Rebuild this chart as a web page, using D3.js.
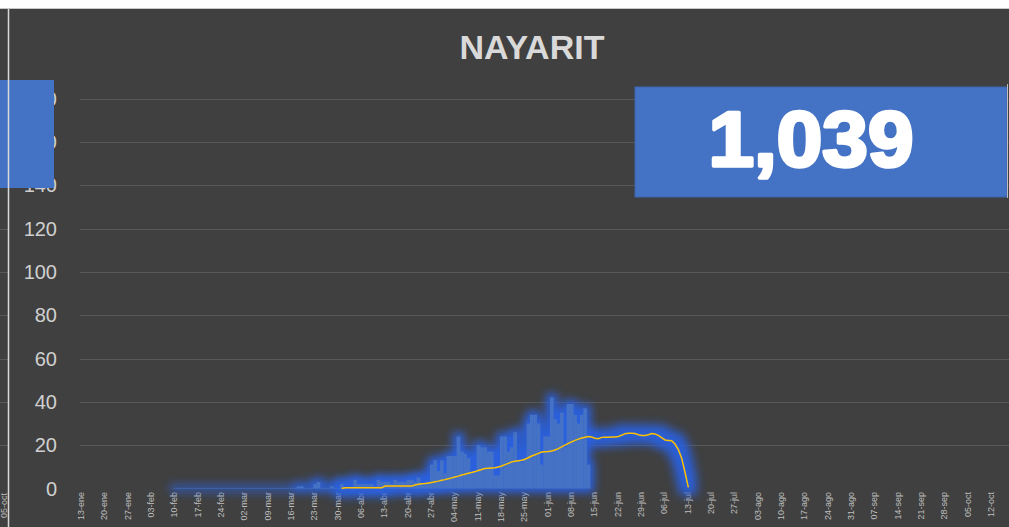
<!DOCTYPE html>
<html>
<head>
<meta charset="utf-8">
<script src="https://cdn.jsdelivr.net/npm/d3@7"></script>
<style>
  html, body { margin: 0; padding: 0; background: #404040; }
  svg { display: block; font-family: "Liberation Sans", Arial, sans-serif; }
</style>
</head>
<body>
<div id="chart"></div>
<script>
// --- datos ---
const title = "NAYARIT";
const totalLabel = "1,039";

const monthsShort = ["ene", "feb", "mar", "abr", "may", "jun", "jul", "ago", "sep", "oct", "nov", "dic"];
const axisStart = "2020-01-13";
const axisEnd = "2020-10-12";
const yTicks = [0, 20, 40, 60, 80, 100, 120, 140, 160, 180];

// casos diarios desde el 10-feb
const barStart = "2020-02-10";
const barValues = [
  0, 0, 0, 0, 0, 0, 0, 0, 0, 0, 0, 0, 0, 0, 0, 0, 0, 0, 0, 0,
  0, 0, 0, 0, 0, 0, 0, 0, 0, 0, 0, 0, 0, 0, 0,
  0, 0, 1, 1, 0, 0, 0, 2, 3, 0, 0, 0, 1, 0, 0, 2, 0, 0, 0, 4,
  2, 2, 2, 2, 2, 1, 4, 3, 3, 3, 2, 4, 3, 3, 3, 4, 4, 3, 5, 2,
  2, 3, 11, 13, 8, 13, 7, 15, 15, 15, 24, 17, 16, 14, 7, 8, 20, 19, 19, 17,
  17, 6, 6, 24, 24, 17, 19, 26, 13, 12, 14, 30, 34, 34, 30, 11, 24, 24, 42, 32,
  30, 35, 19, 39, 39, 34, 30, 34, 37, 11
];

// promedio móvil (línea amarilla) desde el 31-mar
const lineStart = "2020-03-31";
const lineValues = [
  0.0, 0.3, 0.3, 0.3, 0.3, 0.3, 0.3, 0.3, 0.3, 0.3, 0.3, 0.3, 0.3,
  1.1, 1.1, 1.1, 1.1, 1.1, 1.1, 1.1, 1.1, 1.1,
  1.6, 2.0, 2.2, 2.3, 2.5, 2.8,
  3.1, 3.4, 3.8, 4.1, 4.5, 4.9, 5.3, 5.7, 6.2, 6.6, 7.0, 7.4, 7.8, 8.3, 8.8, 9.2,
  9.4, 9.5, 9.6, 9.9, 10.4, 11.0, 11.6, 12.3, 12.6, 12.8, 13.0, 13.5, 14.2, 15.0,
  15.6, 16.2, 16.8, 17.0, 17.1, 17.3, 17.8, 18.4, 19.2, 20.0, 20.8, 21.5, 22.2, 22.8,
  23.3, 23.7, 24.0, 23.8, 23.2, 23.0, 23.6, 23.7, 23.7, 23.8, 23.8, 24.0, 24.6, 25.3,
  25.5, 25.5, 25.4, 24.8, 24.5, 24.5, 24.8, 25.4, 25.2, 24.5, 23.5, 22.4, 22.2, 22.0,
  20.5, 18.0, 14.0, 7.5, 0.5
];

// --- configuración ---
const W = 1009, H = 527;
const bg = "#404040";
const blue = "#4472C4";

const parse = d3.utcParse("%Y-%m-%d");
const esLocale = d3.timeFormatLocale({
  dateTime: "%x, %X", date: "%d/%m/%Y", time: "%H:%M:%S", periods: ["AM", "PM"],
  days: ["domingo", "lunes", "martes", "miércoles", "jueves", "viernes", "sábado"],
  shortDays: ["dom", "lun", "mar", "mié", "jue", "vie", "sáb"],
  months: ["enero", "febrero", "marzo", "abril", "mayo", "junio", "julio", "agosto", "septiembre", "octubre", "noviembre", "diciembre"],
  shortMonths: monthsShort
});
const fmt = esLocale.utcFormat("%d-%b");

const svg = d3.select("#chart").append("svg")
  .attr("width", W).attr("height", H);

const defs = svg.append("defs");
// halo azul; withSource=false deja sólo el halo
function glowFilter(id, radius, blur, opacity, withSource) {
  const f = defs.append("filter").attr("id", id)
    .attr("filterUnits", "userSpaceOnUse")
    .attr("x", 0).attr("y", 0).attr("width", W).attr("height", H);
  f.append("feMorphology").attr("in", "SourceAlpha").attr("operator", "dilate")
    .attr("radius", radius).attr("result", "d");
  f.append("feGaussianBlur").attr("in", "d").attr("stdDeviation", blur).attr("result", "b");
  f.append("feFlood").attr("flood-color", "#2a60de").attr("flood-opacity", opacity);
  f.append("feComposite").attr("in2", "b").attr("operator", "in").attr("result", "g");
  const m = f.append("feMerge");
  m.append("feMergeNode").attr("in", "g");
  if (withSource) m.append("feMergeNode").attr("in", "SourceGraphic");
}
glowFilter("glowBars", 4, 4.5, 1, true);
glowFilter("glowLine", 8, 5, 0.95, false);

svg.append("rect").attr("width", W).attr("height", H).attr("fill", bg);
// franja blanca superior y bordes del panel
svg.append("rect").attr("width", W).attr("height", 8).attr("fill", "#ffffff");
svg.append("line").attr("x1", 0).attr("x2", W).attr("y1", 8.5).attr("y2", 8.5)
  .attr("stroke", "#c8c8c8").attr("stroke-width", 1);

// --- escalas ---
const x = d3.scaleUtc([parse(axisStart), parse(axisEnd)], [80, 990]);
const y = d3.scaleLinear([0, 180], [488.5, 98.5]);
const dayW = x(d3.utcDay.offset(parse(axisStart), 1)) - x(parse(axisStart));

// rejilla (incluye el resto del panel anterior a la izquierda)
svg.append("g").selectAll("line").data(yTicks.filter(d => d > 0)).join("line")
  .attr("x1", 80).attr("x2", W)
  .attr("y1", d => Math.round(y(d)) + 0.5).attr("y2", d => Math.round(y(d)) + 0.5)
  .attr("stroke", "#595959").attr("stroke-width", 1);
svg.append("g").selectAll("line").data(yTicks.filter(d => d > 0)).join("line")
  .attr("x1", 0).attr("x2", 8)
  .attr("y1", d => Math.round(y(d)) + 0.5).attr("y2", d => Math.round(y(d)) + 0.5)
  .attr("stroke", "#595959").attr("stroke-width", 1);

// eje Y
svg.append("g").selectAll("text").data(yTicks).join("text")
  .attr("x", 57).attr("y", d => y(d))
  .attr("dy", "0.36em")
  .attr("text-anchor", "end")
  .attr("font-size", 20)
  .attr("fill", "#d0d0d0")
  .text(d => d);

// eje X (semanal)
const weeks = d3.utcDays(parse(axisStart), d3.utcDay.offset(parse(axisEnd), 1), 7);
const xAxis = d3.axisBottom(x).tickValues(weeks).tickFormat(fmt).tickSize(0);
const gx = svg.append("g").attr("transform", "translate(0,492)").call(xAxis);
gx.select(".domain").remove();
gx.selectAll("text")
  .attr("transform", "rotate(-90)")
  .attr("text-anchor", "end")
  .attr("x", 0).attr("y", 0).attr("dx", 0).attr("dy", "0.35em")
  .attr("font-size", 9)
  .attr("font-family", "'Liberation Sans', Arial, sans-serif")
  .attr("fill", "#bfbfbf");
gx.selectAll(".tick").attr("transform", d => `translate(${x(d) + 1},0)`);

// línea: primero el halo (debajo de las barras)
const linePts = lineValues.map((v, i) => ({ date: d3.utcDay.offset(parse(lineStart), i), value: v }));
const line = d3.line().x(d => x(d.date) + dayW / 2).y(d => y(d.value));
svg.append("path").datum(linePts)
  .attr("d", line)
  .attr("fill", "none")
  .attr("stroke", "#FFC000")
  .attr("stroke-width", 1.5)
  .attr("filter", "url(#glowLine)");

// barras
const bars = barValues.map((v, i) => ({ date: d3.utcDay.offset(parse(barStart), i), value: v }));
svg.append("g").attr("filter", "url(#glowBars)")
  .selectAll("rect").data(bars).join("rect")
  .attr("x", d => x(d.date))
  .attr("width", dayW + 0.3)
  .attr("y", d => Math.min(y(d.value), y(0) - 0.6))
  .attr("height", d => Math.max(y(0) - y(d.value), 0.6))
  .attr("fill", blue);

// línea amarilla
svg.append("path").datum(linePts)
  .attr("d", line)
  .attr("fill", "none")
  .attr("stroke", "#FFC000")
  .attr("stroke-width", 1.5);

// cuadro izquierdo (tapa parte del eje)
svg.append("rect").attr("x", 0).attr("y", 80).attr("width", 54).attr("height", 108).attr("fill", blue);

// borde izquierdo del panel y etiqueta recortada del gráfico anterior
svg.append("text")
  .attr("transform", "translate(4,493) rotate(-90)")
  .attr("text-anchor", "end").attr("dy", "0.35em")
  .attr("font-size", 9).attr("fill", "#bfbfbf")
  .text("05-oct");
svg.append("line").attr("x1", 8.5).attr("x2", 8.5).attr("y1", 9).attr("y2", H)
  .attr("stroke", "#d9d9d9").attr("stroke-width", 1.5);

// título
svg.append("text")
  .attr("x", 532).attr("y", 59)
  .attr("text-anchor", "middle")
  .attr("font-size", 34).attr("font-weight", "bold")
  .attr("fill", "#d9d9d9")
  .text(title);

// cuadro con el total
svg.append("rect").attr("x", 635).attr("y", 87).attr("width", 372).attr("height", 110)
  .attr("fill", blue).attr("stroke", "#3b64ad").attr("stroke-width", 1);
svg.append("line").attr("x1", 1007.5).attr("x2", 1007.5).attr("y1", 84).attr("y2", 198)
  .attr("stroke", "#bfbfbf").attr("stroke-width", 1);
svg.append("text")
  .attr("x", 811).attr("y", 166)
  .attr("text-anchor", "middle")
  .attr("font-size", 77).attr("font-weight", "bold")
  .attr("fill", "#ffffff").attr("stroke", "#ffffff").attr("stroke-width", 3.5)
  .attr("stroke-linejoin", "round")
  .attr("textLength", 205).attr("lengthAdjust", "spacingAndGlyphs")
  .text(totalLabel);
</script>
</body>
</html>
